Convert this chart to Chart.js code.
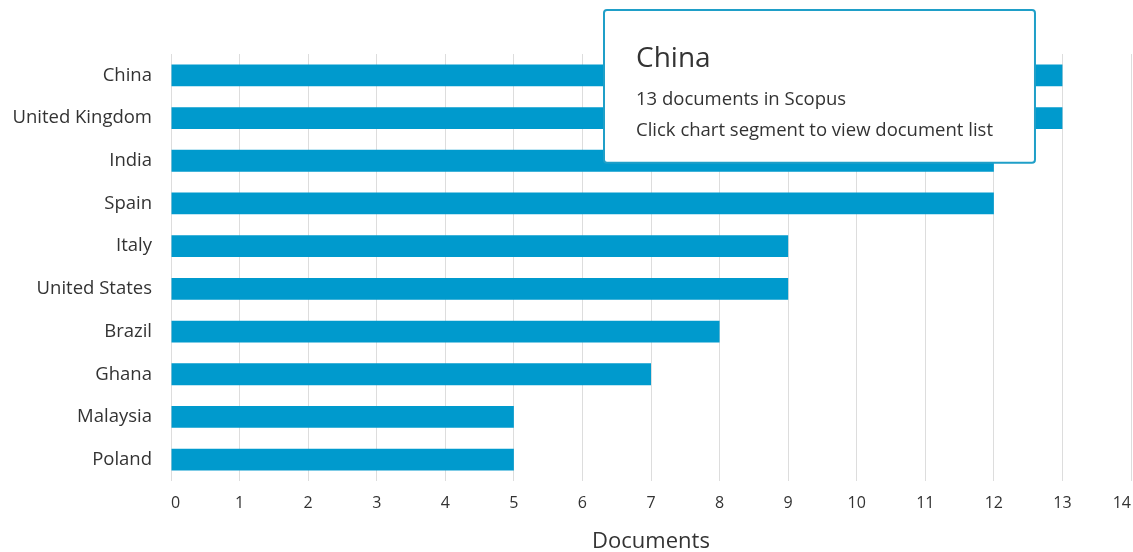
<!DOCTYPE html>
<html>
<head>
<meta charset="utf-8">
<script src="https://cdn.jsdelivr.net/npm/chart.js@4.4.1/dist/chart.umd.min.js"></script>
<style>
  html, body { margin: 0; padding: 0; background: #fff; }
  #wrap { width: 1133px; height: 552px; position: relative; }
</style>
</head>
<body>
<div id="wrap"><canvas id="bar-chart"></canvas></div>
<script>
// data
const countries = ['China', 'United Kingdom', 'India', 'Spain', 'Italy', 'United States', 'Brazil', 'Ghana', 'Malaysia', 'Poland'];
const documents = [13, 13, 12, 12, 9, 9, 8, 7, 5, 5];
const axisTitle = 'Documents';
const hintText = 'Click chart segment to view document list';

const FONT = "'Open Sans', sans-serif";
const TEXT = '#333333';

// tooltip stays in the top right, like the hover box in the picture
Chart.Tooltip.positioners.fixedBox = function () {
    return { x: 607, y: 10 };
};

const ctx = document.getElementById('bar-chart').getContext('2d');
const chart = new Chart(ctx, {
    type: 'bar',
    data: {
        labels: countries,
        datasets: [{
            label: axisTitle,
            data: documents,
            backgroundColor: '#009acd',
            borderWidth: 0,
            barPercentage: 1,
            categoryPercentage: 0.51
        }]
    },
    options: {
        indexAxis: 'y',
        responsive: true,
        maintainAspectRatio: false,
        animation: false,
        events: [],
        layout: {
            padding: { left: 9, top: 54, right: 2, bottom: 0 }
        },
        plugins: {
            legend: { display: false },
            tooltip: {
                enabled: true,
                position: 'fixedBox',
                xAlign: 'left',
                yAlign: 'top',
                caretSize: 0,
                caretPadding: 0,
                cornerRadius: 3,
                displayColors: false,
                backgroundColor: '#ffffff',
                borderColor: '#1f9fc8',
                borderWidth: 2,
                titleColor: TEXT,
                bodyColor: TEXT,
                titleFont: { family: FONT, size: 28, weight: 'normal' },
                bodyFont: { family: FONT, size: 18.5 },
                titleMarginBottom: 13,
                bodySpacing: 8.8,
                padding: { left: 32, right: 42, top: 32, bottom: 21 },
                callbacks: {
                    title: items => items[0].label,
                    label: item => item.parsed.x + ' documents in Scopus',
                    afterLabel: () => hintText
                }
            }
        },
        scales: {
            x: {
                min: 0,
                max: 14,
                border: { display: false },
                grid: { color: '#dddddd', lineWidth: 1, drawTicks: false },
                ticks: {
                    stepSize: 1,
                    padding: 13,
                    align: 'inner',
                    color: TEXT,
                    font: { family: FONT, size: 16 }
                },
                title: {
                    display: true,
                    text: axisTitle,
                    color: TEXT,
                    font: { family: FONT, size: 22, lineHeight: 0.9 },
                    padding: { top: 4, bottom: 0 }
                },
                afterFit: s => {
                    s.height = 71;
                    // plot runs almost to the right edge
                    s.paddingRight = 0;
                }
            },
            y: {
                border: { display: false },
                grid: { display: false, drawTicks: false },
                ticks: {
                    padding: 19,
                    color: TEXT,
                    font: { family: FONT, size: 18.5 }
                },
                afterFit: s => { s.width = 162; }
            }
        }
    }
});

// show the hover box for China, as in the picture
chart.tooltip.setActiveElements([{ datasetIndex: 0, index: 0 }], { x: 700, y: 75 });
chart.update();
</script>
</body>
</html>
